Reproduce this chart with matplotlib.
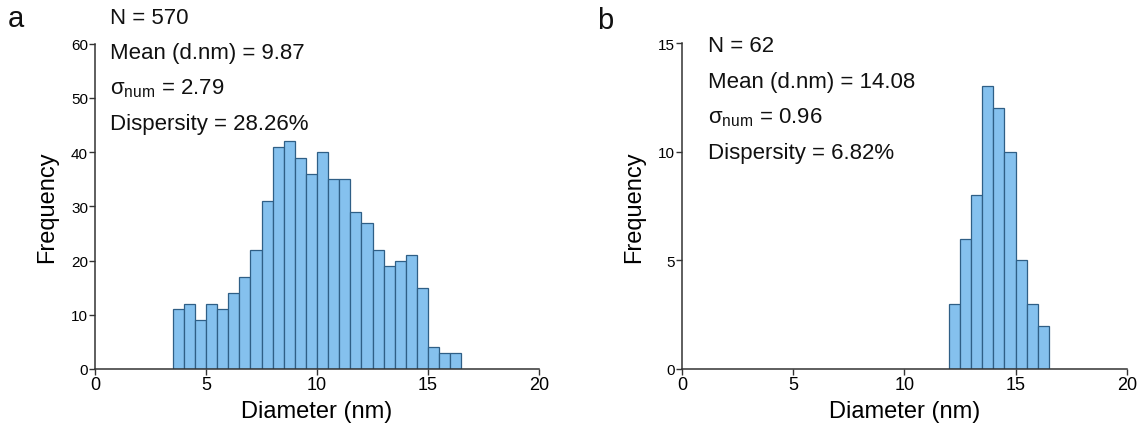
import numpy as np
import matplotlib
matplotlib.use("Agg")
import matplotlib.pyplot as plt

plt.rcParams['font.family'] = ['Liberation Sans', 'DejaVu Sans']
plt.rcParams['mathtext.fontset'] = 'custom'
plt.rcParams['mathtext.rm'] = 'Liberation Sans'
plt.rcParams['mathtext.it'] = 'Liberation Sans:italic'

# Histogram data (bin width 0.5 nm)
bin_width = 0.5
edges_a = np.arange(3.5, 16.5, bin_width)          # left edges, sample a
counts_a = [11, 12, 9, 12, 11, 14, 17, 22, 31, 41, 42, 39, 36,
            40, 35, 35, 29, 27, 22, 19, 20, 21, 15, 4, 3, 3]
edges_b = np.arange(12.0, 16.5, bin_width)         # left edges, sample b
counts_b = [3, 6, 8, 13, 12, 10, 5, 3, 2]

stats_a = ["N = 570", "Mean (d.nm) = 9.87", r"σ$_{\mathrm{num}}$ = 2.79", "Dispersity = 28.26%"]
stats_b = ["N = 62", "Mean (d.nm) = 14.08", r"σ$_{\mathrm{num}}$ = 0.96", "Dispersity = 6.82%"]

x_ticks = [0, 5, 10, 15, 20]
y_ticks_a = [0, 10, 20, 30, 40, 50, 60]
y_ticks_b = [0, 5, 10, 15]

W, H = 1139, 427
fig = plt.figure(figsize=(W / 100, H / 100), dpi=100)

face = '#85C1EE'
edge = '#2F5F86'


def make_panel(rect, edges, counts, yticks, ymax, stats, text_xy, label, label_xy):
    ax = fig.add_axes(rect)
    ax.bar(edges, counts, width=bin_width, align='edge', color=face,
           edgecolor=edge, linewidth=0.9, zorder=2)
    ax.set_xlim(0, 20)
    ax.set_ylim(0, ymax)
    ax.set_xticks(x_ticks)
    ax.set_yticks(yticks)
    for s in ('top', 'right'):
        ax.spines[s].set_visible(False)
    for s in ('left', 'bottom'):
        ax.spines[s].set_linewidth(1.1)
        ax.spines[s].set_color('#333333')
    ax.tick_params(axis='both', direction='out', length=4, width=1.0, color='#333333')
    ax.tick_params(axis='x', labelsize=13, pad=1)
    ax.tick_params(axis='y', labelsize=11, pad=1)
    ax.set_xlabel('Diameter (nm)', fontsize=17, labelpad=5)
    ax.set_ylabel('Frequency', fontsize=17, labelpad=9)
    tx, ty = text_xy
    for i, line in enumerate(stats):
        fig.text(tx / W, 1 - (ty + i * 35.5) / H, line, fontsize=16,
                 ha='left', va='center', color='#111111')
    fig.text(label_xy[0] / W, 1 - label_xy[1] / H, label, fontsize=21,
             ha='left', va='center', color='#111111')
    return ax


make_panel([95 / W, 1 - 370 / H, 444 / W, 325.3 / H], edges_a, counts_a,
           y_ticks_a, 60, stats_a, (110, 18), 'a', (8, 19))
make_panel([682 / W, 1 - 370 / H, 444.7 / W, 326 / H], edges_b, counts_b,
           y_ticks_b, 15, stats_b, (708, 47), 'b', (597, 21))

fig.savefig('out.png', dpi=100)
